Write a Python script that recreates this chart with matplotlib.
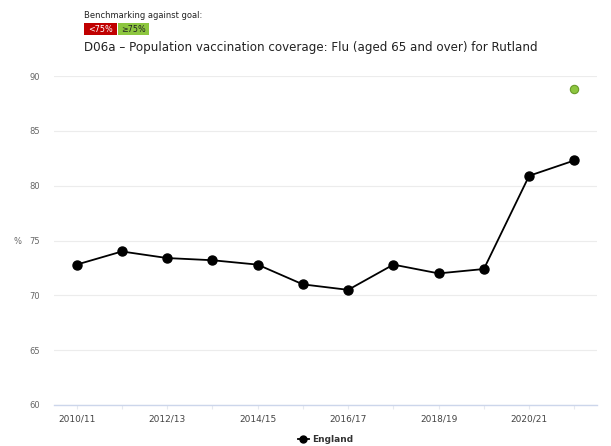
import matplotlib
matplotlib.use("Agg")
import matplotlib.pyplot as plt
from matplotlib.patches import Rectangle
from matplotlib.lines import Line2D

categories = ["2010/11", "2011/12", "2012/13", "2013/14", "2014/15", "2015/16",
              "2016/17", "2017/18", "2018/19", "2019/20", "2020/21", "2021/22"]
england = [72.8, 74.0, 73.4, 73.2, 72.8, 71.0, 70.5, 72.8, 72.0, 72.4, 80.9, 82.3]
rutland_cat = ["2021/22"]
rutland = [88.8]
yticks = [60, 65, 70, 75, 80, 85, 90]

W, H = 611, 446
fig = plt.figure(figsize=(W / 100, H / 100), dpi=100)
ax = fig.add_axes([54 / W, (H - 405) / H, (597 - 54) / W, (405 - 76) / H])

x = list(range(len(categories)))
ax.plot(x, england, color="black", lw=1.3, marker="o", markersize=6.5,
        markerfacecolor="black", markeredgecolor="black", zorder=3)
rx = [categories.index(c) for c in rutland_cat]
ax.scatter(rx, rutland, s=36, color="#8dc63f", edgecolor="#6a9a2a",
           linewidth=0.8, zorder=4)

ax.set_xlim(-0.5, len(categories) - 0.5)
ax.set_ylim(60, 90)
ax.set_yticks(yticks)
ax.set_yticklabels([str(v) for v in yticks], fontsize=6, color="#666666")
ax.set_xticks(x)
ax.set_xticklabels([c if i % 2 == 0 else "" for i, c in enumerate(categories)],
                   fontsize=6.5, color="#444444")
ax.tick_params(axis="y", length=0, pad=10)
ax.tick_params(axis="x", length=3, color="#e6e9f0", pad=4)
ax.grid(axis="y", color="#ececec", lw=0.8)
ax.set_axisbelow(True)
for s in ["top", "right", "left"]:
    ax.spines[s].set_visible(False)
ax.spines["bottom"].set_color("#ccd6eb")
ax.spines["bottom"].set_linewidth(1.0)

fig.text(17 / W, 1 - 241 / H, "%", fontsize=6, color="#666666",
         ha="center", va="center")

# Title and benchmark legend
fig.text(84 / W, 1 - 48 / H,
         "D06a \u2013 Population vaccination coverage: Flu (aged 65 and over) for Rutland",
         fontsize=8.6, color="#222222", ha="left", va="center")
fig.text(84 / W, 1 - 16 / H, "Benchmarking against goal:", fontsize=6,
         color="#222222", ha="left", va="center")
fig.patches.append(Rectangle((84 / W, 1 - 35 / H), 33 / W, 12 / H,
                             transform=fig.transFigure, facecolor="#c00000",
                             edgecolor="none"))
fig.patches.append(Rectangle((118 / W, 1 - 35 / H), 31 / W, 12 / H,
                             transform=fig.transFigure, facecolor="#8dc63f",
                             edgecolor="none"))
fig.text(100.5 / W, 1 - 29 / H, "<75%", fontsize=5.8, color="white",
         ha="center", va="center")
fig.text(133.5 / W, 1 - 29 / H, "\u226575%", fontsize=5.8, color="#222222",
         ha="center", va="center")

# Series legend
leg = ax.legend([Line2D([], [], color="black", lw=1.3, marker="o", markersize=5)],
                ["England"], loc="center", bbox_to_anchor=(0.5, (405 - 440) / (405 - 76)),
                frameon=False, prop={"size": 6.5, "weight": "bold"},
                handlelength=1.2, handletextpad=0.4)
for t in leg.get_texts():
    t.set_color("#333333")

fig.savefig("out.png", dpi=100, facecolor="white")
